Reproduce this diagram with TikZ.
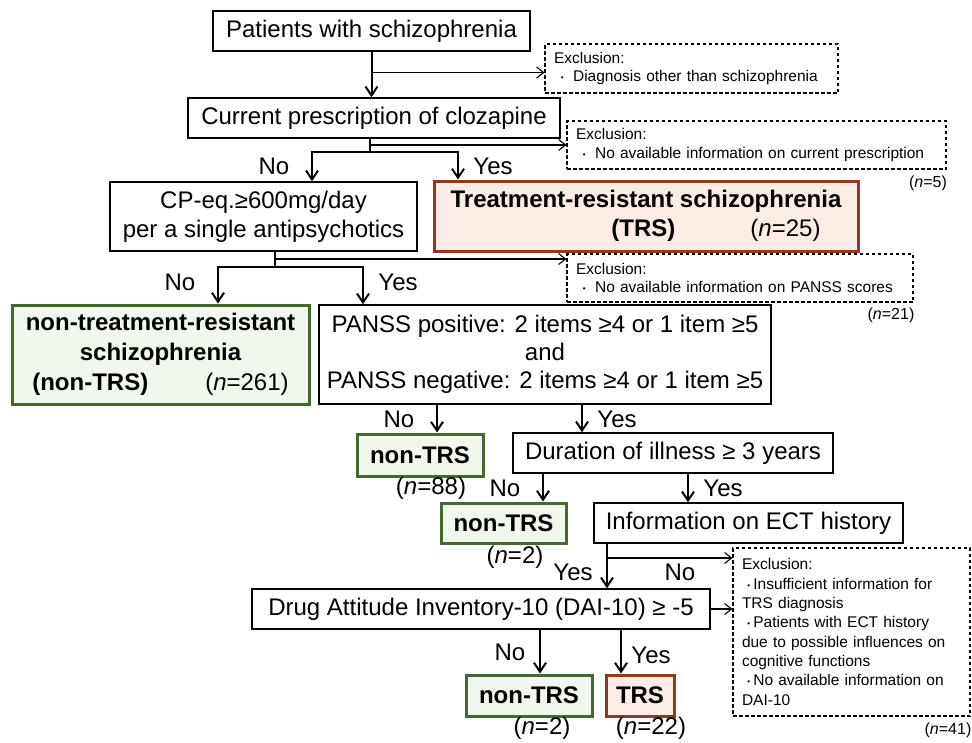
\documentclass[tikz,border=0pt]{standalone}
\usepackage{fontspec}
\setmainfont{Liberation Sans}
\usetikzlibrary{arrows.meta,calc,positioning}

\definecolor{trsline}{RGB}{140,58,32}
\definecolor{trsfill}{RGB}{251,237,229}
\definecolor{ntrsline}{RGB}{68,104,48}
\definecolor{ntrsfill}{RGB}{242,247,237}

\newcommand{\nn}[1]{{\normalfont(\textit{n}=#1)}}
\newcommand{\bdot}{\raisebox{0.15ex}{\fontsize{8}{8}\selectfont\textbullet}}
\newcommand{\exdot}{\hspace*{0.45em}\bdot\hspace{0.6em}}
\newcommand{\exdotb}{\hspace*{0.35em}\bdot\hspace{0.2em}}

\tikzset{
  base/.style={inner sep=0pt, align=center, font=\fontsize{24}{29}\selectfont},
  plain/.style={base, draw, line width=1.3pt, fill=white},
  ntrs/.style={base, draw=ntrsline, fill=ntrsfill, line width=3pt, font=\fontsize{24}{30}\selectfont\bfseries},
  trsbox/.style={base, draw=trsline, fill=trsfill, line width=3pt, font=\fontsize{24}{28.5}\selectfont\bfseries},
  excl/.style={draw, dash pattern=on 3.5pt off 2.5pt, line width=1.1pt, inner xsep=9pt, inner ysep=0pt, align=left, font=\fontsize{15.5}{18.5}\selectfont},
  lab/.style={font=\fontsize{24}{29}\selectfont, inner sep=0pt},
  nlab/.style={font=\fontsize{16}{19}\selectfont, inner sep=0pt},
  arr/.style={-{Straight Barb[length=9pt,width=12pt]}, line width=2pt},
  thinarr/.style={-{Straight Barb[length=7pt,width=11pt]}, line width=1.1pt},
}

\begin{document}
\begin{tikzpicture}[x=1pt,y=-1pt]
  \useasboundingbox (0,0) rectangle (972,742);

  % boxes of the flow
  \node[plain, minimum width=317pt, minimum height=40pt] (pat) at (371.5,31) {Patients with schizophrenia};
  \node[plain, minimum width=372pt, minimum height=40pt] (cloz) at (374,118) {Current prescription of clozapine};
  \node[plain, minimum width=307pt, minimum height=69pt] (cpeq) at (263.5,216.5) {CP-eq.≥600mg/day\\per a single antipsychotics};
  \node[trsbox, minimum width=424pt, minimum height=70pt] (trs) at (646,216) {Treatment-resistant schizophrenia\\\hspace*{140pt}(TRS)\hspace{75pt}\nn{25}};
  \node[ntrs, minimum width=297pt, minimum height=99pt] (nontrs) at (160.5,354.5) {non-treatment-resistant\\schizophrenia\\(non-TRS)\hspace{57pt}\nn{261}};
  \node[plain, minimum width=452pt, minimum height=99pt, font=\fontsize{24}{28}\selectfont] (panss) at (545,354.5) {PANSS positive: 2 items ≥4 or 1 item ≥5\\and\\PANSS negative: 2 items ≥4 or 1 item ≥5};
  \node[ntrs, minimum width=126pt, minimum height=42pt] (ntrsA) at (420,455) {non-TRS};
  \node[plain, minimum width=320pt, minimum height=40pt] (dur) at (673,453) {Duration of illness ≥ 3 years};
  \node[ntrs, minimum width=125pt, minimum height=40pt] (ntrsB) at (503.5,523) {non-TRS};
  \node[plain, minimum width=309pt, minimum height=40pt] (ect) at (748.5,523) {Information on ECT history};
  \node[plain, minimum width=458pt, minimum height=40pt] (dai) at (481,609) {Drug Attitude Inventory-10 (DAI-10) ≥ -5};
  \node[ntrs, minimum width=126pt, minimum height=41pt] (ntrsC) at (529,695.5) {non-TRS};
  \node[trsbox, minimum width=68pt, minimum height=41pt] (trsB) at (640,695.5) {TRS};

  % exclusions
  \node[excl, text width=275pt, minimum height=49pt] (ex1) at (691.5,68.5) {Exclusion:\\\exdot Diagnosis other than schizophrenia};
  \node[excl, text width=361pt, minimum height=48pt] (ex2) at (756.5,145) {Exclusion:\\\exdot No available information on current prescription};
  \node[excl, text width=328pt, minimum height=48pt] (ex3) at (740,278) {Exclusion:\\\exdot No available information on PANSS scores};
  \node[excl, text width=219pt, minimum height=168pt, font=\fontsize{15.5}{19.3}\selectfont] (ex4) at (851.5,632) {Exclusion:\\\exdotb Insufficient information for\\TRS diagnosis\\\exdotb Patients with ECT history\\due to possible influences on\\cognitive functions\\\exdotb No available information on\\DAI-10};

  % branch points
  \coordinate (b1) at (371.5,72.5);
  \coordinate (s1) at (370,152);
  \coordinate (s1l) at (312,152);
  \coordinate (s1r) at (458,152);
  \coordinate (b2) at (370,145);
  \coordinate (s2) at (275,267);
  \coordinate (s2l) at (218,267);
  \coordinate (s2r) at (363,267);
  \coordinate (b3) at (275,259);
  \coordinate (p1) at (437,0);
  \coordinate (p2) at (582,0);
  \coordinate (d1) at (543,0);
  \coordinate (d2) at (688,0);
  \coordinate (e1) at (607,0);
  \coordinate (b4) at (607,558);
  \coordinate (q1) at (540,0);
  \coordinate (q2) at (621,0);

  % connectors
  \draw[arr] (pat.south) -- (pat.south |- cloz.north);
  \draw[thinarr] (b1) -- (b1 -| ex1.west);
  \draw[line width=2pt] (cloz.south -| s1) -- (s1);
  \draw[thinarr] (b2) -- (b2 -| ex2.west);
  \draw[arr] (s1) -| (s1l |- cpeq.north);
  \draw[arr] (s1) -| (s1r |- trs.north);
  \draw[line width=2pt] (cpeq.south -| s2) -- (s2);
  \draw[thinarr] (b3) -- (b3 -| ex3.west);
  \draw[arr] (s2) -| (s2l |- nontrs.north);
  \draw[arr] (s2) -| (s2r |- panss.north);
  \draw[arr] (p1 |- panss.south) -- (p1 |- ntrsA.north);
  \draw[arr] (p2 |- panss.south) -- (p2 |- dur.north);
  \draw[arr] (d1 |- dur.south) -- (d1 |- ntrsB.north);
  \draw[arr] (d2 |- dur.south) -- (d2 |- ect.north);
  \draw[arr] (e1 |- ect.south) -- (e1 |- dai.north);
  \draw[thinarr] (b4) -- (b4 -| ex4.west);
  \draw[thinarr] (dai.east) -- (dai.east -| ex4.west);
  \draw[arr] (q1 |- dai.south) -- (q1 |- ntrsC.north);
  \draw[arr] (q2 |- dai.south) -- (q2 |- trsB.north);

  % yes / no
  \node[lab] (no1) at (274,166) {No};
  \node[lab] (yes1) at (493,166) {Yes};
  \node[lab] (no2) at (180,282) {No};
  \node[lab] (yes2) at (398,282) {Yes};
  \node[lab] (no3) at (399,419) {No};
  \node[lab] (yes3) at (617,419) {Yes};
  \node[lab] (no4) at (505,488) {No};
  \node[lab] (yes4) at (723,488) {Yes};
  \node[lab] (yes5) at (573,572) {Yes};
  \node[lab] (no5) at (680,572) {No};
  \node[lab] (no6) at (510,652) {No};
  \node[lab] (yes6) at (651,655) {Yes};

  % counts
  \node[nlab] (n5) at (928,183) {\nn{5}};
  \node[nlab] (n21) at (891,315) {\nn{21}};
  \node[lab] (n88) at (431,488) {\nn{88}};
  \node[lab] (n2a) at (515,557) {\nn{2}};
  \node[lab] (n2b) at (542,728) {\nn{2}};
  \node[lab] (n22) at (651,728) {\nn{22}};
  \node[nlab] (n41) at (948,730) {\nn{41}};
\end{tikzpicture}
\end{document}
